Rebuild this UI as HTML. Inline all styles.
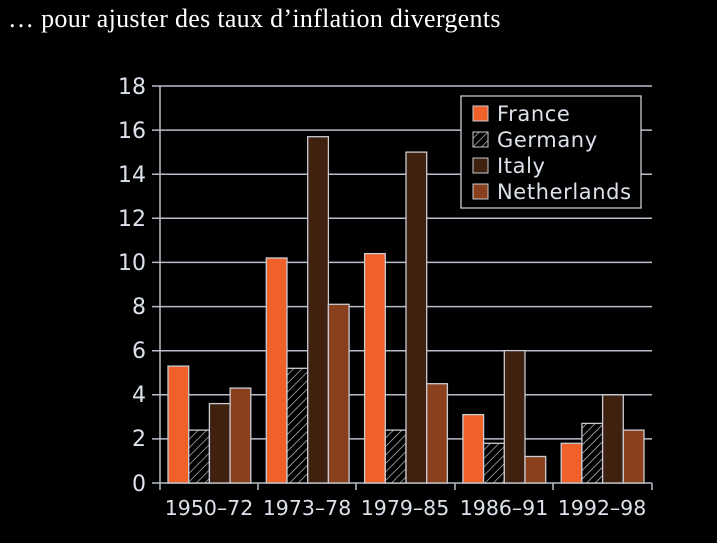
<!DOCTYPE html>
<html><head><meta charset="utf-8"><style>
html,body{margin:0;padding:0;background:#000;width:717px;height:543px;overflow:hidden}
</style></head><body>
<svg width="717" height="543" xmlns="http://www.w3.org/2000/svg">
<defs>
<pattern id="h" patternUnits="userSpaceOnUse" width="6" height="6" patternTransform="rotate(45)">
<rect width="6" height="6" fill="#000"/><line x1="0" y1="0" x2="0" y2="6" stroke="#d0d4da" stroke-width="1.3"/>
</pattern>
</defs>
<text x="8" y="27" font-family="Liberation Serif, serif" font-size="26" letter-spacing="0.3" fill="#fff">… pour ajuster des taux d’inflation divergents</text>
<g stroke="#b8bec8" stroke-width="1.5">
<line x1="152" y1="86" x2="652" y2="86"/>
<line x1="152" y1="130.1" x2="652" y2="130.1"/>
<line x1="152" y1="174.2" x2="652" y2="174.2"/>
<line x1="152" y1="218.3" x2="652" y2="218.3"/>
<line x1="152" y1="262.4" x2="652" y2="262.4"/>
<line x1="152" y1="306.6" x2="652" y2="306.6"/>
<line x1="152" y1="350.7" x2="652" y2="350.7"/>
<line x1="152" y1="394.8" x2="652" y2="394.8"/>
<line x1="152" y1="438.9" x2="652" y2="438.9"/>
<line x1="152" y1="483" x2="652" y2="483"/>
<line x1="160" y1="86" x2="160" y2="490"/>
<line x1="258" y1="483" x2="258" y2="490"/>
<line x1="356" y1="483" x2="356" y2="490"/>
<line x1="455" y1="483" x2="455" y2="490"/>
<line x1="553" y1="483" x2="553" y2="490"/>
<line x1="652" y1="483" x2="652" y2="490"/>
</g>
<g font-family="DejaVu Sans, Liberation Sans, sans-serif" font-size="22" fill="#dde2ea" text-anchor="end">
<text x="146" y="94">18</text><text x="146" y="138">16</text><text x="146" y="182">14</text>
<text x="146" y="226">12</text><text x="146" y="270">10</text><text x="146" y="314">8</text>
<text x="146" y="358">6</text><text x="146" y="402">4</text><text x="146" y="446">2</text>
<text x="146" y="491">0</text>
</g>
<g font-family="DejaVu Sans, Liberation Sans, sans-serif" font-size="20.5" fill="#dde2ea" text-anchor="middle">
<text x="209" y="515">1950–72</text><text x="307" y="515">1973–78</text><text x="405" y="515">1979–85</text>
<text x="504" y="515">1986–91</text><text x="602" y="515">1992–98</text>
</g>
<g stroke="#c8ccd4" stroke-width="1.3">
<rect x="168" y="366.1" width="20.7" height="116.9" fill="#f0612a"/>
<rect x="188.7" y="430.1" width="20.7" height="52.9" fill="url(#h)"/>
<rect x="209.4" y="403.6" width="20.7" height="79.4" fill="#40200f"/>
<rect x="230.1" y="388.1" width="20.7" height="94.9" fill="#8a401c"/>
<rect x="266.3" y="258" width="20.7" height="225" fill="#f0612a"/>
<rect x="287" y="368.3" width="20.7" height="114.7" fill="url(#h)"/>
<rect x="307.7" y="136.7" width="20.7" height="346.3" fill="#40200f"/>
<rect x="328.4" y="304.3" width="20.7" height="178.7" fill="#8a401c"/>
<rect x="364.6" y="253.6" width="20.7" height="229.4" fill="#f0612a"/>
<rect x="385.3" y="430.1" width="20.7" height="52.9" fill="url(#h)"/>
<rect x="406" y="152.1" width="20.7" height="330.9" fill="#40200f"/>
<rect x="426.7" y="383.7" width="20.7" height="99.3" fill="#8a401c"/>
<rect x="462.9" y="414.6" width="20.7" height="68.4" fill="#f0612a"/>
<rect x="483.6" y="443.3" width="20.7" height="39.7" fill="url(#h)"/>
<rect x="504.3" y="350.6" width="20.7" height="132.4" fill="#40200f"/>
<rect x="525" y="456.5" width="20.7" height="26.5" fill="#8a401c"/>
<rect x="561.2" y="443.3" width="20.7" height="39.7" fill="#f0612a"/>
<rect x="581.9" y="423.4" width="20.7" height="59.6" fill="url(#h)"/>
<rect x="602.6" y="394.8" width="20.7" height="88.2" fill="#40200f"/>
<rect x="623.3" y="430.1" width="20.7" height="52.9" fill="#8a401c"/>
</g>
<g>
<rect x="461" y="96" width="180" height="112" fill="#000" stroke="#c8ccd4" stroke-width="1.3"/>
<rect x="473" y="106" width="15" height="15" fill="#f0612a" stroke="#c8ccd4"/>
<rect x="473" y="132" width="15" height="15" fill="url(#h)" stroke="#c8ccd4"/>
<rect x="473" y="158" width="15" height="15" fill="#40200f" stroke="#c8ccd4"/>
<rect x="473" y="184" width="15" height="15" fill="#8a401c" stroke="#c8ccd4"/>
<g font-family="DejaVu Sans, Liberation Sans, sans-serif" font-size="21" letter-spacing="0.6" fill="#dde2ea">
<text x="497" y="121">France</text><text x="497" y="147">Germany</text>
<text x="497" y="173">Italy</text><text x="497" y="199">Netherlands</text>
</g>
</g>
</svg>
</body></html>
